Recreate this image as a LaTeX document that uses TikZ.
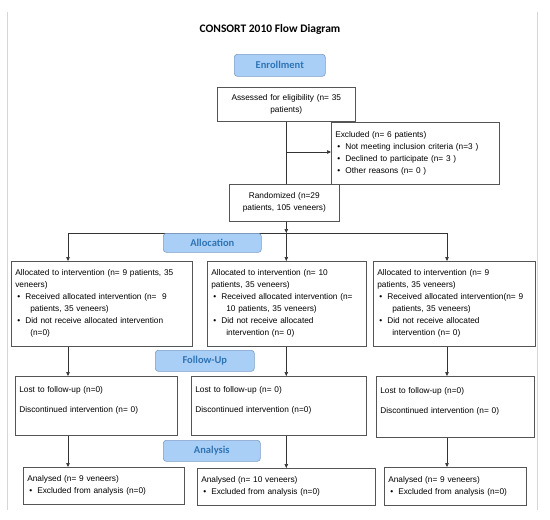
\documentclass[tikz,border=0pt]{standalone}
\usepackage{fontspec}
\setmainfont{Liberation Sans}
\newfontfamily\headfont{Carlito}
\usetikzlibrary{arrows.meta,positioning,calc}
\definecolor{boxline}{HTML}{555555}
\definecolor{phasefill}{HTML}{A9CFF7}
\definecolor{phaseline}{HTML}{7C9CC4}
\definecolor{phasetext}{HTML}{2F74B5}
\definecolor{frameline}{HTML}{D6D6D6}
\newcommand{\itm}{\hspace*{2pt}\makebox[8pt][l]{\textbullet}}
\newcommand{\cnt}{\hspace*{15pt}}
\begin{document}
\begin{tikzpicture}[x=1pt,y=-1pt,
  box/.style={draw=boxline,line width=0.6pt,anchor=north west,align=left,
    inner xsep=4pt,inner ysep=3pt,font=\fontsize{8.3}{12}\selectfont},
  phase/.style={draw=phaseline,fill=phasefill,rounded corners=3pt,line width=0.6pt,
    anchor=north west,inner sep=0pt,text=phasetext,
    font=\headfont\bfseries\fontsize{10.5}{12}\selectfont},
  link/.style={draw=black!80,line width=0.6pt},
  arr/.style={link,-{Triangle[length=4pt,width=3.5pt]}}]
  \useasboundingbox (0,0) rectangle (550,520);
  % page frame
  \draw[frameline] (7,12) -- (7,510);
  \draw[frameline,line width=0.8pt] (537,12) -- (537,510);
  \node[font=\headfont\bfseries\fontsize{11.5}{13}\selectfont] (title) at (270,29) {CONSORT 2010 Flow Diagram};

  % Enrollment
  \node[phase,minimum width=91,minimum height=22] (enrol) at (234,54) {Enrollment};
  \node[box,align=center,text width=130,minimum height=34] (assess) at (217,87)
    {Assessed for eligibility (n= 35\\patients)};
  \node[box,text width=160,minimum height=62] (excl) at (331,122)
    {Excluded (n= 6 patients)\\
     \itm Not meeting inclusion criteria (n=3 )\\
     \itm Declined to participate (n= 3 )\\
     \itm Other reasons (n= 0 )};
  \node[box,align=center,text width=102,minimum height=37] (rand) at (229,184)
    {Randomized (n=29\\patients, 105 veneers)};
  \coordinate (split) at (assess.south |- 0,152);
  \draw[link] (assess.south) -- (assess.south |- rand.north);
  \draw[arr] (split) -- (split -| excl.west);

  % Allocation
  \coordinate (brL) at (68,233);
  \coordinate (brR) at (447,233);
  \coordinate (fork) at (assess.south |- brL);
  \draw[arr] (fork |- rand.south) -- (fork);
  \draw[link] (brL) -- (brR);
  \node[phase,minimum width=98,minimum height=19] (alloc) at (163,233) {Allocation};
  \node[box,text width=173,minimum height=85] (allocL) at (11,261)
    {Allocated to intervention (n= 9 patients, 35\\
     veneers)\\
     \itm Received allocated intervention (n=\ \ 9\\
     \cnt patients, 35 veneers)\\
     \itm Did not receive allocated intervention\\
     \cnt (n=0)};
  \node[box,text width=151,minimum height=85] (allocM) at (207,261)
    {Allocated to intervention (n= 10\\
     patients, 35 veneers)\\
     \itm Received allocated intervention (n=\\
     \cnt 10 patients, 35 veneers)\\
     \itm Did not receive allocated\\
     \cnt intervention (n= 0)};
  \node[box,text width=154,minimum height=85] (allocR) at (373,261)
    {Allocated to intervention (n= 9\\
     patients, 35 veneers)\\
     \itm Received allocated intervention(n= 9\\
     \cnt patients, 35 veneers)\\
     \itm Did not receive allocated\\
     \cnt intervention (n= 0)};
  \draw[arr] (brL) -- (brL |- allocL.north);
  \draw[arr] (fork) -- (fork |- allocM.north);
  \draw[arr] (brR) -- (brR |- allocR.north);

  % Follow-Up
  \node[phase,minimum width=99,minimum height=21] (follow) at (155,350) {Follow-Up};
  \node[box,text width=154,minimum height=59] (follL) at (15,376)
    {Lost to follow-up (n=0)\\[8pt]Discontinued intervention (n= 0)\\[1pt]\mbox{}};
  \node[box,text width=167,minimum height=59] (follM) at (191,376)
    {Lost to follow-up (n= 0)\\[8pt]Discontinued intervention (n=0)\\[1pt]\mbox{}};
  \node[box,text width=150,minimum height=61] (follR) at (376,376)
    {Lost to follow-up (n=0)\\[8pt]Discontinued intervention (n= 0)\\[1pt]\mbox{}};
  \draw[arr] (brL |- allocL.south) -- (brL |- follL.north);
  \draw[arr] (fork |- allocM.south) -- (fork |- follM.north);
  \draw[arr] (brR |- allocR.south) -- (brR |- follR.north);

  % Analysis
  \node[phase,minimum width=97,minimum height=21] (analysis) at (163,440) {Analysis};
  \node[box,text width=153,minimum height=37] (anaL) at (23,467)
    {Analysed (n= 9 veneers)\\\itm Excluded from analysis (n=0)};
  \node[box,text width=170,minimum height=37] (anaM) at (197,468)
    {Analysed (n= 10 veneers)\\\itm Excluded from analysis (n=0)};
  \node[box,text width=134,minimum height=38] (anaR) at (384,467)
    {Analysed (n= 9 veneers)\\\itm Excluded from analysis (n=0)};
  \draw[arr] (brL |- follL.south) -- (brL |- anaL.north);
  \draw[arr] (fork |- follM.south) -- (fork |- anaM.north);
  \draw[arr] (brR |- follR.south) -- (brR |- anaR.north);
\end{tikzpicture}
\end{document}
